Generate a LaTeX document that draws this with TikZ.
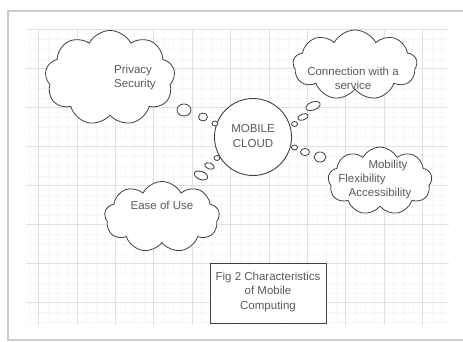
\documentclass[tikz,border=0pt]{standalone}
\usepackage{fontspec}
\setmainfont{Liberation Sans}
\usetikzlibrary{shapes.symbols,shapes.geometric}
\definecolor{inkline}{HTML}{404040}
\definecolor{inktext}{HTML}{5A5A5A}

\begin{document}
\begin{tikzpicture}[x=1pt,y=-1pt,
		thought/.style={cloud,cloud puffs=9,cloud puff arc=125,cloud ignores aspect,draw=inkline,line width=0.8pt,fill=white,inner sep=0pt},
		puff/.style={ellipse,draw=inkline,line width=0.8pt,fill=white,inner sep=0pt},
		txt/.style={text=inktext,font=\fontsize{11.5}{14.2}\selectfont,inner sep=0pt}]
		\useasboundingbox (0,0) rectangle (463,342);
		\fill[white] (0,0) rectangle (463,342);
		\draw[gray!40,line width=2pt] (8,11) rectangle (475,340);
		\begin{scope}[shift={(0,29.6)}]
			\draw[gray!6,line width=0.4pt,xstep=9.6pt,ystep=9.75pt] (26,295.4) grid (449,0);
			\draw[gray!24,line width=0.5pt,xstep=38.4pt,ystep=39pt] (26,295.4) grid (449,0);
		\end{scope}
		\node[thought,minimum width=130,minimum height=95] (privacy) at (110,78) {};
		\node[thought,minimum width=124,minimum height=70] (service) at (355,65) {};
		\node[thought,minimum width=104,minimum height=68] (mobility) at (380,181) {};
		\node[thought,minimum width=115,minimum height=71] (ease) at (162,217) {};
		\node[circle,draw=inkline,line width=0.9pt,fill=white,minimum size=77,txt] (mc) at (253,137) {};
		\node[txt,align=center] (mctxt) at (253,136) {MOBILE\\CLOUD};
		\node[txt,align=left,anchor=west] (privtxt) at (114,77.5) {Privacy\\Security};
		\node[txt,align=center] (servtxt) at (353,78) {Connection with a\\service};
		\node[txt] (mobtxt) at (388,166) {Mobility};
		\node[txt] (flextxt) at (362,180) {Flexibility};
		\node[txt] (acctxt) at (380,194) {Accessibility};
		\node[txt] (easetxt) at (162,205) {Ease of Use};
		\node[draw=inkline,line width=0.8pt,fill=white,minimum width=116,minimum height=60,inner sep=0pt] (fig) at (268,293) {};
		\node[txt,align=center] (figtxt) at (268,292) {Fig 2 Characteristics\\of Mobile\\Computing};
		\node[puff,minimum width=14,minimum height=12] (p1) at (184,110) {};
		\node[puff,minimum width=9,minimum height=8] (p2) at (203,117) {};
		\node[puff,minimum width=6,minimum height=5] (p3) at (215,123.5) {};
		\node[puff,minimum width=15,minimum height=8,rotate=20] (s1) at (313,106) {};
		\node[puff,minimum width=11,minimum height=6,rotate=20] (s2) at (303,117) {};
		\node[puff,minimum width=6,minimum height=5] (s3) at (294.5,124) {};
		\node[puff,minimum width=6,minimum height=5] (m1) at (294.5,147.5) {};
		\node[puff,minimum width=9,minimum height=7] (m2) at (305,152) {};
		\node[puff,minimum width=12,minimum height=10] (m3) at (320,157) {};
		\node[puff,minimum width=6,minimum height=5] (e1) at (217,158) {};
		\node[puff,minimum width=10,minimum height=6,rotate=-20] (e2) at (209.5,166) {};
		\node[puff,minimum width=14,minimum height=8,rotate=-20] (e3) at (201,175.5) {};
	\end{tikzpicture}
\end{document}
